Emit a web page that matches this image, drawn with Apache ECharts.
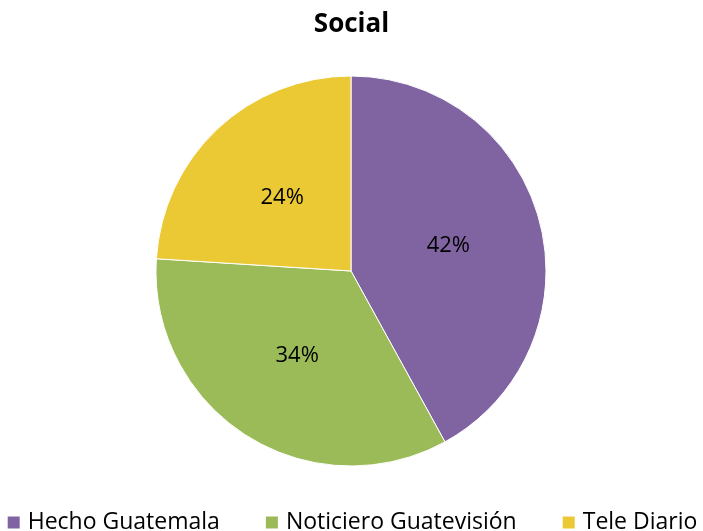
<!DOCTYPE html>
<html><head><meta charset="utf-8">
<script src="https://cdn.jsdelivr.net/npm/echarts@6/dist/echarts.min.js"></script>
<style>html,body{margin:0;padding:0;background:#fff}#c{width:703px;height:531px}</style>
</head><body><div id="c"></div>
<script>
const categories = ['Hecho Guatemala', 'Noticiero Guatevisión', 'Tele Diario'];
const values = [42, 34, 24];
const colors = ['#8064A2', '#9BBB59', '#EBC934'];
const chart = echarts.init(document.getElementById('c'));
chart.setOption({
  animation: false,
  title: { text: 'Social', left: 'center', top: 7, textStyle: { fontFamily: 'Open Sans', fontWeight: 'bold', fontSize: 26, color: '#000' } },
  legend: {
    top: 506, left: 'center', itemWidth: 14, itemHeight: 14, itemGap: 44,
    icon: 'rect',
    textStyle: { fontFamily: 'Open Sans', fontSize: 23, color: '#000', padding: [0, 0, 0, 2] },
    data: categories
  },
  series: [{
    type: 'pie', center: [351, 271], radius: 195, startAngle: 90, clockwise: true,
    data: categories.map((n, i) => ({ name: n, value: values[i], itemStyle: { color: colors[i] } })),
    label: { position: 'inside', formatter: '{d}%', fontFamily: 'Open Sans', fontSize: 22, color: '#000' },
    labelLine: { show: false },
    itemStyle: { borderColor: '#fff', borderWidth: 1 }
  }]
});
</script></body></html>
